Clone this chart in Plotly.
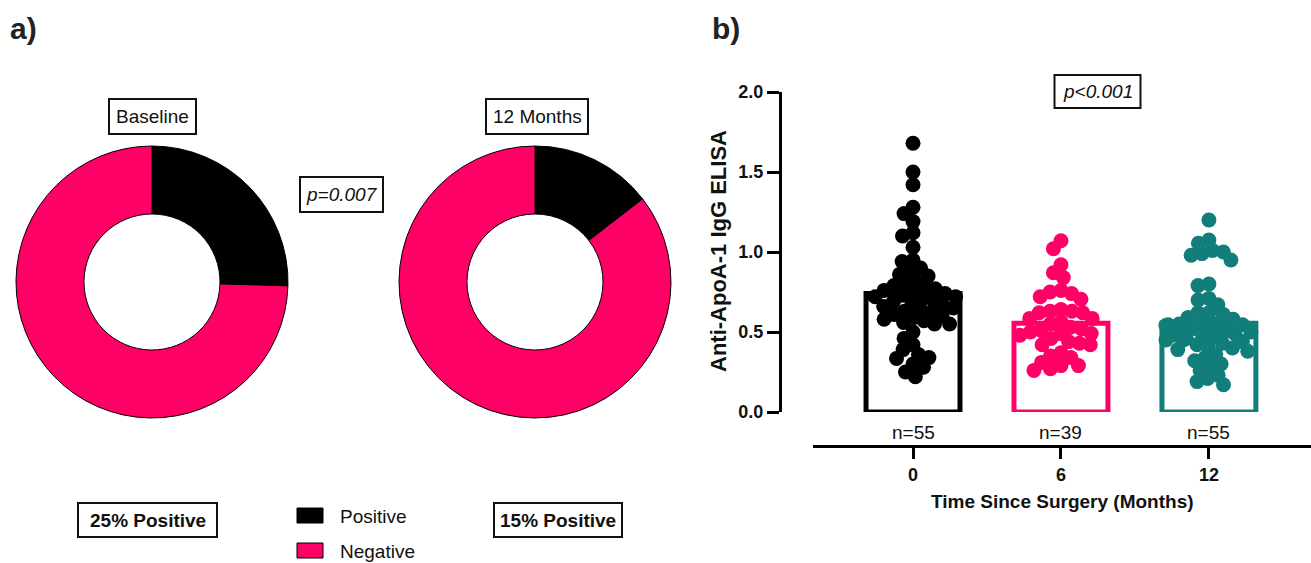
import numpy as np
import plotly.graph_objects as go

W, H = 1311, 563

# ---------------- data ----------------
pie_labels = ["Positive", "Negative"]
baseline_counts = [14, 41]
month12_counts = [8, 47]
pie_colors = ["#000000", "#FF0066"]

groups = ["0", "6", "12"]
group_n = [55, 39, 55]
group_colors = ["#000000", "#FF0066", "#117E7A"]
bar_means = [0.74, 0.555, 0.555]

vals_0 = [1.68, 1.50, 1.42, 1.28, 1.24, 1.19, 1.12, 1.10, 1.03, 0.95, 0.94, 0.90,
          0.88, 0.86, 0.85, 0.82, 0.80, 0.79, 0.78,
          0.77, 0.76, 0.75, 0.74, 0.73, 0.72, 0.72, 0.71, 0.70, 0.69, 0.68, 0.67,
          0.66, 0.65, 0.64, 0.63, 0.62, 0.61, 0.60, 0.59, 0.58, 0.57, 0.56, 0.55, 0.55,
          0.50, 0.46, 0.42, 0.39, 0.36, 0.34, 0.335, 0.30, 0.28, 0.25, 0.22]
vals_6 = [1.07, 1.02, 0.92, 0.87, 0.84, 0.76, 0.75, 0.74, 0.72, 0.705, 0.64, 0.63,
          0.63, 0.62, 0.62, 0.585, 0.585, 0.565, 0.55, 0.53, 0.52, 0.51, 0.50, 0.49,
          0.49, 0.48, 0.46, 0.44, 0.43, 0.42, 0.42, 0.37, 0.35, 0.34, 0.31, 0.29,
          0.29, 0.27, 0.26]
vals_12 = [1.20, 1.075, 1.055, 1.01, 1.00, 0.99, 0.98, 0.95, 0.80, 0.79, 0.71, 0.70,
           0.67, 0.62, 0.62, 0.61, 0.59, 0.58, 0.56, 0.55, 0.55, 0.545, 0.545, 0.54,
           0.53, 0.53, 0.52, 0.52, 0.51, 0.50, 0.50, 0.49, 0.48, 0.48, 0.47, 0.46,
           0.45, 0.45, 0.44, 0.43, 0.42, 0.41, 0.40, 0.39, 0.38, 0.36, 0.34, 0.32,
           0.30, 0.28, 0.26, 0.23, 0.21, 0.19, 0.17]
group_vals = [vals_0, vals_6, vals_12]

# ---------------- layout helpers ----------------
def px(x):
    return x / W

def py(y):
    return 1 - y / H

X_PX_PER_UNIT = 148.0
Y_PX_PER_UNIT = 160.0


def beeswarm(values, dmin=11.0, maxw=43.0):
    """Offsets (in x units) so that markers don't overlap more than dmin px."""
    order = np.argsort(-np.asarray(values))
    placed = []
    offs = np.zeros(len(values))
    for i in order:
        yp = values[i] * Y_PX_PER_UNIT
        forbidden = []
        for (xj, yj) in placed:
            dy = abs(yp - yj)
            if dy < dmin:
                dx = np.sqrt(dmin ** 2 - dy ** 2)
                forbidden.append((xj - dx, xj + dx))
        cands = [0.0] + [a for a, b in forbidden] + [b for a, b in forbidden]
        cands = sorted(cands, key=abs)
        chosen = None
        for c in cands:
            if abs(c) <= maxw and all(not (a + 1e-6 < c < b - 1e-6) for a, b in forbidden):
                chosen = c
                break
        if chosen is None:
            grid = np.linspace(-maxw, maxw, 41)
            score = [sum(1 for (xj, yj) in placed
                         if (xj - g) ** 2 + (yj - yp) ** 2 < dmin ** 2) for g in grid]
            chosen = float(grid[int(np.argmin(score))])
        placed.append((chosen, yp))
        offs[i] = chosen / X_PX_PER_UNIT
    return offs


fig = go.Figure()

# ---------------- donuts ----------------
for counts, cx in [(baseline_counts, 152), (month12_counts, 535)]:
    fig.add_trace(go.Pie(
        labels=pie_labels, values=counts, hole=0.5, sort=False,
        direction="clockwise", rotation=0, automargin=False,
        marker=dict(colors=pie_colors, line=dict(color="#000000", width=1)),
        textinfo="none", hoverinfo="label+value",
        domain=dict(x=[px(cx - 136), px(cx + 136)], y=[py(418), py(146)]),
        showlegend=False,
    ))

# ---------------- bars + points ----------------
xpos = [0, 1, 2]
for g, (vals, col, m) in enumerate(zip(group_vals, group_colors, bar_means)):
    fig.add_trace(go.Bar(
        x=[xpos[g]], y=[m], width=0.635, xaxis="x2", yaxis="y2",
        marker=dict(color="rgba(255,255,255,0)", line=dict(color=col, width=5)),
        showlegend=False, hoverinfo="y",
    ))
for g, (vals, col) in enumerate(zip(group_vals, group_colors)):
    offs = beeswarm(vals)
    fig.add_trace(go.Scatter(
        x=xpos[g] + offs, y=vals, mode="markers", xaxis="x2", yaxis="y2",
        marker=dict(color=col, size=15, line=dict(width=0)),
        showlegend=False, cliponaxis=False,
    ))

# ---------------- annotations ----------------
ann = []
shapes = []
FONT = "Liberation Sans, Arial, sans-serif"


def boxed(text, cx, cy, size, italic=False, bold=False, bw=None, bh=None):
    t = text
    if bold:
        t = "<b>" + t + "</b>"
    if italic:
        t = "<i>" + t + "</i>"
    ann.append(dict(text=t, x=px(cx), y=py(cy), xref="paper", yref="paper",
                    showarrow=False, xanchor="center", yanchor="middle",
                    font=dict(family=FONT, size=size, color="#111111")))
    shapes.append(dict(type="rect", xref="paper", yref="paper",
                       x0=px(cx - bw / 2), x1=px(cx + bw / 2),
                       y0=py(cy + bh / 2), y1=py(cy - bh / 2),
                       line=dict(color="#111111", width=2)))


boxed("Baseline", 152.5, 116.5, 19, bw=87, bh=35)
boxed("12 Months", 537, 116.5, 19, bw=102, bh=35)
boxed("p=0.007", 341.5, 194.5, 19, italic=True, bw=83, bh=35)
boxed("p<0.001", 1097.5, 91.5, 19, italic=True, bw=86, bh=33)
boxed("25% Positive", 147.5, 520, 19, bold=True, bw=139, bh=34)
boxed("15% Positive", 558, 520, 19, bold=True, bw=128, bh=34)

# legend (manual, to match the reference's large swatches)
for lab, col, cy in [("Positive", pie_colors[0], 515.5), ("Negative", pie_colors[1], 550.5)]:
    shapes.append(dict(type="rect", xref="paper", yref="paper",
                       x0=px(297), x1=px(323), y0=py(cy + 7.5), y1=py(cy - 7.5),
                       fillcolor=col, line=dict(color="#000000", width=1)))
    ann.append(dict(text=lab, x=px(338), y=py(cy + 1), xref="paper", yref="paper",
                    showarrow=False, xanchor="left", yanchor="middle",
                    font=dict(family=FONT, size=19, color="#111111")))

ann.append(dict(text="<b>a)</b>", x=px(8), y=py(29), xref="paper", yref="paper",
                showarrow=False, xanchor="left", yanchor="middle",
                font=dict(family=FONT, size=30, color="#222222")))
ann.append(dict(text="<b>b)</b>", x=px(710), y=py(29), xref="paper", yref="paper",
                showarrow=False, xanchor="left", yanchor="middle",
                font=dict(family=FONT, size=30, color="#222222")))

for g, n in enumerate(group_n):
    ann.append(dict(text=f"n={n}", x=xpos[g], y=py(432), xref="x2", yref="paper",
                    showarrow=False, xanchor="center", yanchor="middle",
                    font=dict(family=FONT, size=19, color="#111111")))

ann.append(dict(text="<b>Time Since Surgery (Months)</b>", x=px(1062), y=py(501),
                xref="paper", yref="paper", showarrow=False,
                xanchor="center", yanchor="middle",
                font=dict(family=FONT, size=19, color="#111111")))
ann.append(dict(text="<b>Anti-ApoA-1 IgG ELISA</b>", x=px(719), y=py(251),
                xref="paper", yref="paper", showarrow=False, textangle=-90,
                xanchor="center", yanchor="middle",
                font=dict(family=FONT, size=22, color="#111111")))

fig.update_layout(
    width=W, height=H,
    margin=dict(l=0, r=0, t=0, b=0, pad=0, autoexpand=False),
    paper_bgcolor="white", plot_bgcolor="rgba(0,0,0,0)",
    font=dict(family=FONT, color="#111111"),
    showlegend=False,
    xaxis2=dict(domain=[px(813), 1.0], range=[-0.676, 2.69], anchor="free",
                position=py(446), showline=True, linecolor="#000000", linewidth=3,
                ticks="outside", ticklen=11, tickwidth=3, tickcolor="#000000",
                tickvals=xpos, ticktext=[f"<b>{g}</b>" for g in groups],
                tickfont=dict(family=FONT, size=18, color="#111111"),
                showgrid=False, zeroline=False, fixedrange=True, automargin=False),
    yaxis2=dict(domain=[py(412), py(92)], range=[0, 2.0], anchor="free",
                position=px(780), showline=True, linecolor="#000000", linewidth=3,
                ticks="outside", ticklen=12, tickwidth=3, tickcolor="#000000",
                tickvals=[0, 0.5, 1.0, 1.5, 2.0],
                ticktext=["<b>0.0</b>", "<b>0.5</b>", "<b>1.0</b>", "<b>1.5</b>", "<b>2.0</b>"],
                tickfont=dict(family=FONT, size=18, color="#111111"),
                showgrid=False, zeroline=False, fixedrange=True, automargin=False),
    xaxis=dict(visible=False, automargin=False),
    yaxis=dict(visible=False, automargin=False),
    annotations=ann, shapes=shapes,
)

fig.write_html(
    "out.html",
    config={"displayModeBar": False},
    post_script=(
        "document.documentElement.style.margin='0';"
        "document.body.style.margin='0';"
        "document.body.style.overflow='hidden';"
        "var gd=document.getElementById('{plot_id}');"
        "gd.style.position='fixed';gd.style.top='0px';gd.style.left='0px';"
    ),
)
